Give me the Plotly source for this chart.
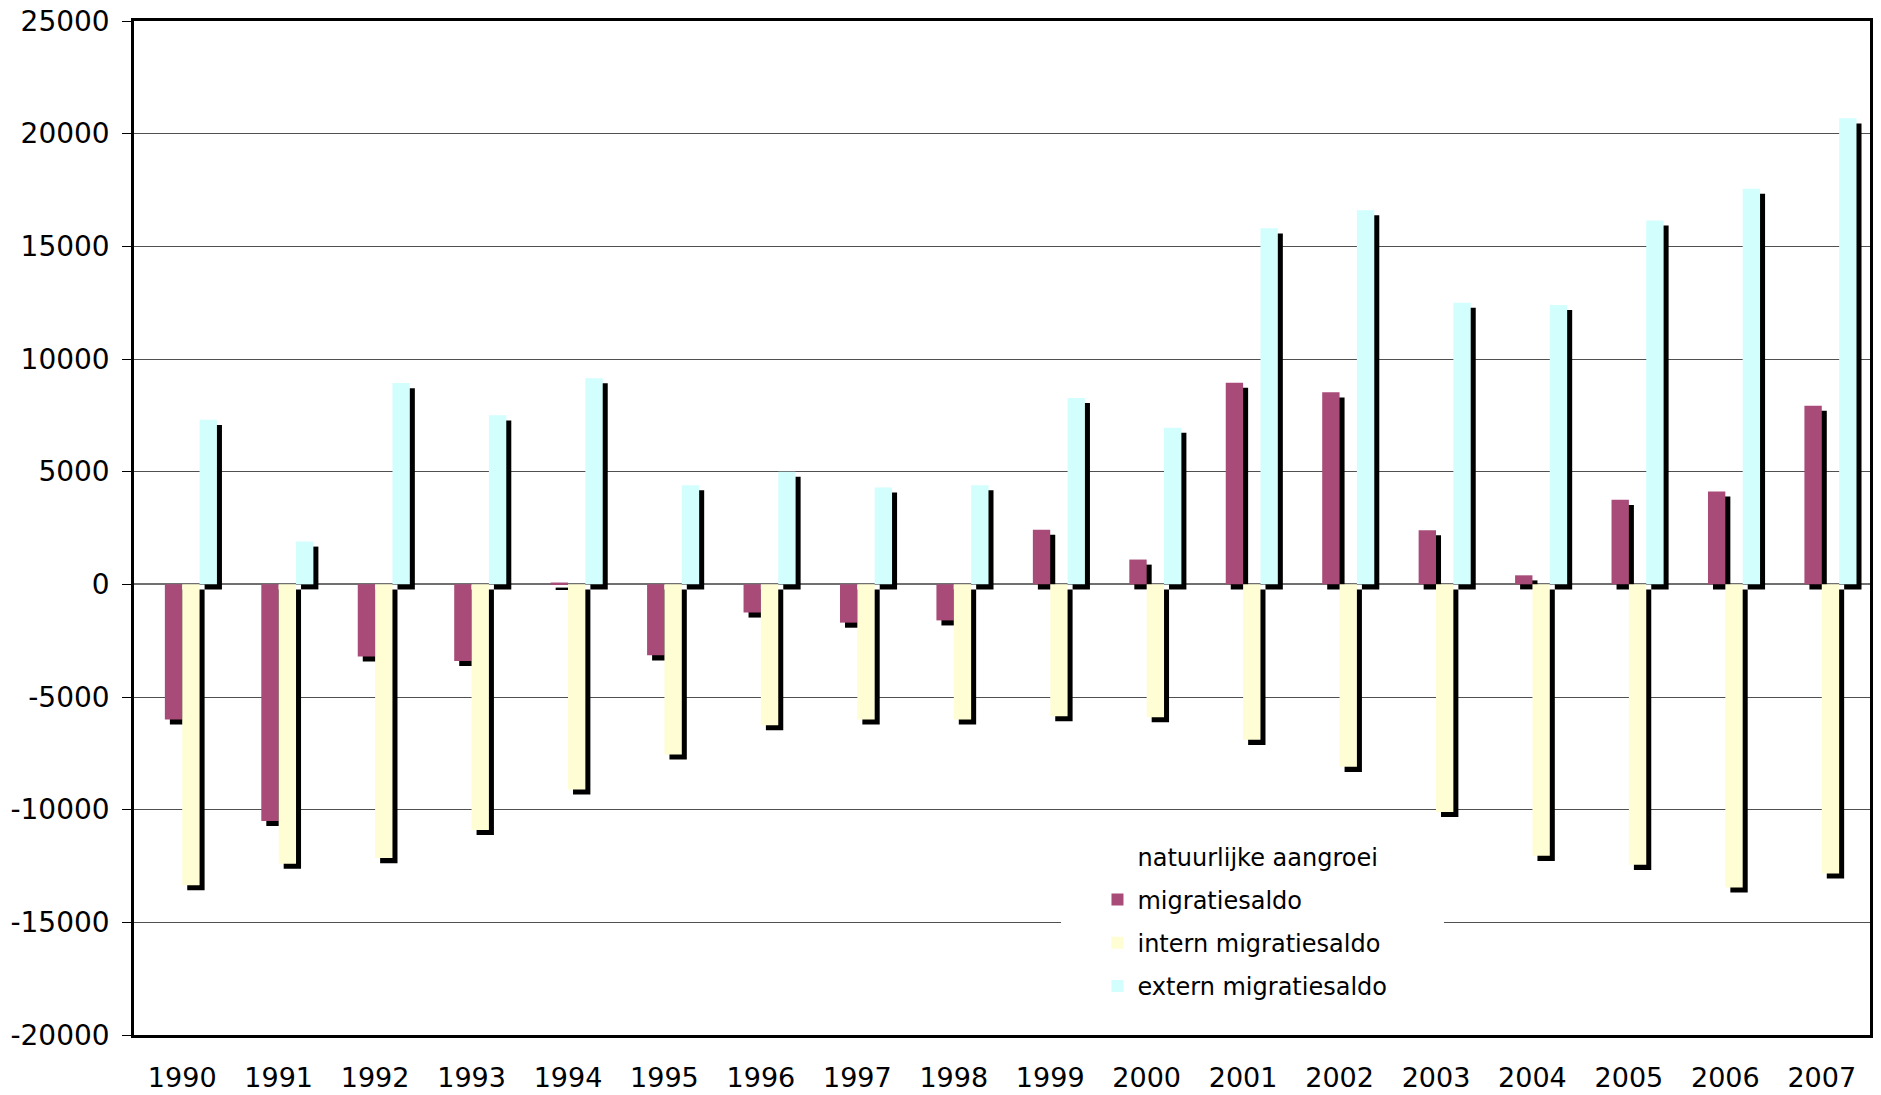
import plotly.graph_objects as go

# ---- data ----
years = ["1990", "1991", "1992", "1993", "1994", "1995", "1996", "1997", "1998",
         "1999", "2000", "2001", "2002", "2003", "2004", "2005", "2006", "2007"]
natuurlijke_aangroei = [None] * len(years)  # series has no visible bars
migratiesaldo = [-6000, -10500, -3200, -3400, 80, -3150, -1250, -1700, -1600,
                 2420, 1100, 8950, 8520, 2400, 400, 3750, 4120, 7930]
intern_migratiesaldo = [-13350, -12400, -12150, -10900, -9100, -7550, -6250, -6000, -6000,
                        -5850, -5900, -6900, -8100, -10100, -12050, -12450, -13450, -12830]
extern_migratiesaldo = [7300, 1900, 8930, 7500, 9150, 4400, 5000, 4300, 4400,
                        8270, 6950, 15800, 16600, 12500, 12400, 16150, 17560, 20680]
y_tick_values = [-20000, -15000, -10000, -5000, 0, 5000, 10000, 15000, 20000, 25000]
y_tick_labels = ["-20000", "-15000", "-10000", "-5000", "0", "5000", "10000", "15000", "20000", "25000"]

series = [
    ("natuurlijke aangroei", natuurlijke_aangroei, "#FFFFFF", False),
    ("migratiesaldo", migratiesaldo, "#A94B78", True),
    ("intern migratiesaldo", intern_migratiesaldo, "#FEFDD4", True),
    ("extern migratiesaldo", extern_migratiesaldo, "#D2FEFE", True),
]

# ---- style ----
FONT = "Verdana, DejaVu Sans, sans-serif"
BAR_W = 0.18
SHADOW_DX = 0.052
SHADOW_DY = 225

x = list(range(len(years)))
fig = go.Figure()

for k, (name, vals, color, shadow) in enumerate(series):
    off = -2 * BAR_W + k * BAR_W
    grp = f"g{k}"
    if shadow:
        fig.add_trace(go.Bar(
            x=x, y=vals, base=-SHADOW_DY, width=BAR_W, offset=off + SHADOW_DX,
            marker=dict(color="#000000", line=dict(width=0)),
            showlegend=False, legendgroup=grp, hoverinfo="skip"))
    fig.add_trace(go.Bar(
        x=x, y=vals, width=BAR_W, offset=off, name=name,
        marker=dict(color=color, line=dict(width=0)),
        legendgroup=grp))

fig.update_layout(
    width=1881, height=1095, autosize=False,
    margin=dict(l=134, r=11, t=21, b=60, autoexpand=False),
    paper_bgcolor="white", plot_bgcolor="white",
    barmode="overlay",
    font=dict(family=FONT, size=28, color="black"),
    showlegend=True,
    legend=dict(
        x=0.555, y=0.198, xanchor="left", yanchor="top",
        bgcolor="white", borderwidth=0,
        font=dict(family=FONT, size=24, color="black"),
        traceorder="grouped", tracegroupgap=9,
    ),
    xaxis=dict(
        range=[-0.5, len(years) - 0.5], automargin=False,
        tickvals=x, ticktext=years, ticks="",
        showline=True, linecolor="black", linewidth=2.5, mirror=True,
        showgrid=False, zeroline=False,
        ticklabelstandoff=17,
        tickfont=dict(size=27),
    ),
    xaxis2=dict(
        overlaying="x", matches="x", anchor="free", position=20000 / 45000,
        range=[-0.5, len(years) - 0.5], automargin=False,
        tickvals=[i + 0.5 for i in x[:-1]], ticks="outside", ticklen=8,
        tickcolor="#555555", tickwidth=1, showticklabels=False,
        showline=False, showgrid=False, zeroline=False,
    ),
    yaxis=dict(
        range=[-20000, 25000], automargin=False,
        tickvals=y_tick_values, ticktext=y_tick_labels,
        ticks="outside", ticklen=9, tickcolor="black", tickwidth=1,
        showline=True, linecolor="black", linewidth=2.5, mirror=True,
        showgrid=True, gridcolor="#505050", gridwidth=1,
        zeroline=True, zerolinecolor="#707070", zerolinewidth=1.5,
        ticklabelstandoff=7,
        tickfont=dict(size=28),
    ),
    shapes=[dict(type="rect", xref="paper", yref="paper",
                 x0=0.534, x1=0.7546, y0=0.03, y1=0.19,
                 fillcolor="white", line=dict(width=0), layer="above")],
)

fig.write_html("out.html", config={"displayModeBar": False},
               post_script="document.body.style.margin='0';document.body.style.overflow='hidden';")
